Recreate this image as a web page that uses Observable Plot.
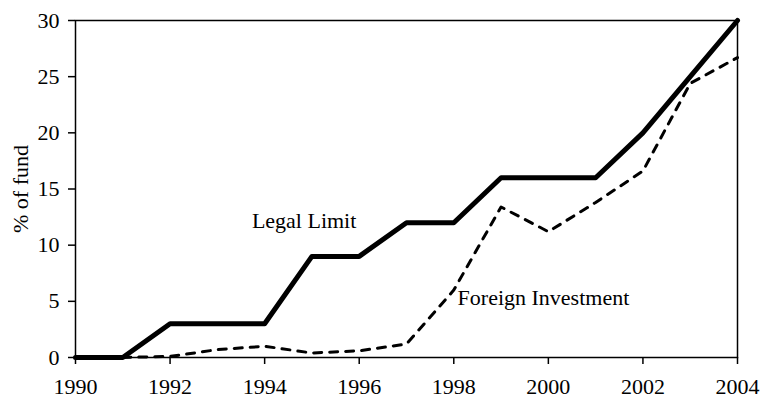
<!DOCTYPE html>
<html>
<head>
<meta charset="utf-8">
<script src="https://cdn.jsdelivr.net/npm/d3@7"></script>
<script src="https://cdn.jsdelivr.net/npm/@observablehq/plot@0.6"></script>
<style>
  html, body { margin: 0; padding: 0; background: #fff; }
</style>
</head>
<body>
<div id="chart"></div>
<script>
const years = [1990, 1991, 1992, 1993, 1994, 1995, 1996, 1997, 1998, 1999, 2000, 2001, 2002, 2003, 2004];
const legalLimit = [0, 0, 3, 3, 3, 9, 9, 12, 12, 16, 16, 16, 20, 25, 30];
const foreignYears = [1991, 1992, 1993, 1994, 1995, 1996, 1997, 1998, 1999, 2000, 2001, 2002, 2003, 2004];
const foreignInvestment = [0, 0.1, 0.7, 1.0, 0.4, 0.6, 1.2, 6, 13.4, 11.2, 13.8, 16.6, 24.4, 26.7];
const xTicks = [1990, 1992, 1994, 1996, 1998, 2000, 2002, 2004];
const yTicks = [0, 5, 10, 15, 20, 25, 30];
const labelNames = ["Legal Limit", "Foreign Investment"];
const labelX = [1993.73, 1998.08];
const labelY = [12.2, 5.3];

const legal = years.map((y, i) => ({year: y, value: legalLimit[i]}));
const foreign = foreignYears.map((y, i) => ({year: y, value: foreignInvestment[i]}));
const labels = labelNames.map((t, i) => ({text: t, x: labelX[i], y: labelY[i]}));

const chart = Plot.plot({
  width: 762,
  height: 400,
  marginLeft: 75,
  marginRight: 25,
  marginTop: 20,
  marginBottom: 43,
  style: {fontFamily: "'Liberation Serif', 'Times New Roman', serif", fontSize: "22px", color: "#000", background: "#fff"},
  x: {domain: [1990, 2004]},
  y: {domain: [0, 30]},
  marks: [
    Plot.frame({stroke: "#000", strokeWidth: 1.5}),
    Plot.line(legal, {x: "year", y: "value", stroke: "#000", strokeWidth: 5, strokeLinejoin: "round"}),
    Plot.line(foreign, {x: "year", y: "value", stroke: "#000", strokeWidth: 3, strokeDasharray: "8,8"}),
    Plot.text(labels, {x: "x", y: "y", text: "text", textAnchor: "start", fontSize: 22, fill: "#000"}),
    Plot.axisX({ticks: xTicks, tickFormat: d => String(d), tickSize: 7, tickPadding: 14, label: null, stroke: "#000", strokeWidth: 1.5}),
    Plot.axisY({ticks: yTicks, tickSize: 7, tickPadding: 9, label: "% of fund", labelAnchor: "center", labelArrow: "none", labelOffset: 63, stroke: "#000", strokeWidth: 1.5})
  ]
});
document.getElementById("chart").appendChild(chart);
</script>
</body>
</html>
